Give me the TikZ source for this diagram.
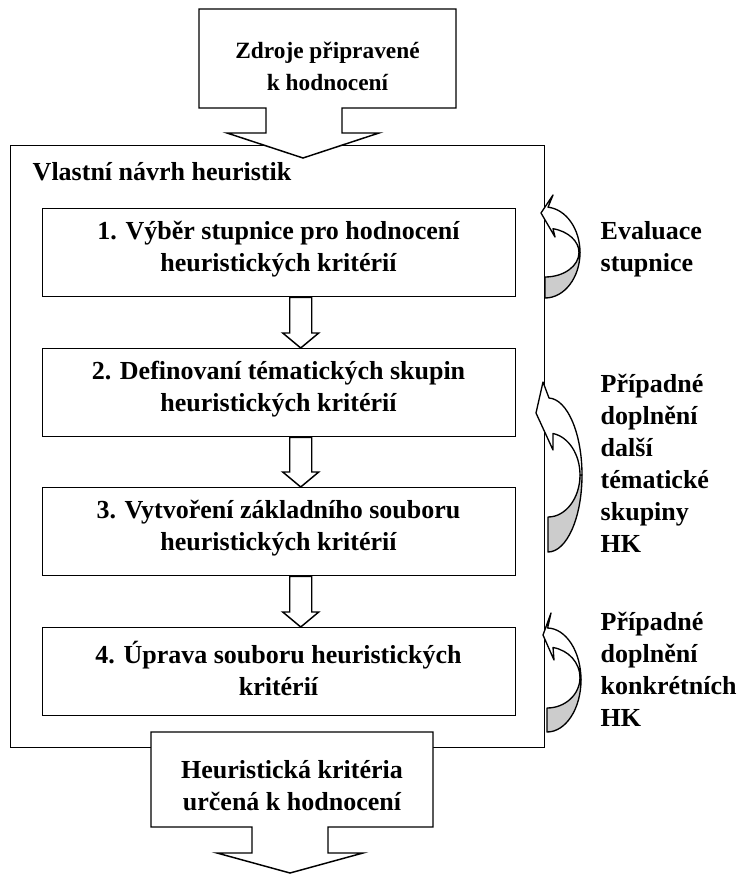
\documentclass[tikz,border=0pt]{standalone}
\usepackage{fontspec}
\setmainfont{Liberation Serif}
\usetikzlibrary{calc}
\begin{document}
\begin{tikzpicture}[x=0.75pt,y=-0.75pt,
  line width=1.1pt, line join=miter,
  shapeline/.style={draw=black, fill=white, line width=1.1pt},
  loopfront/.style={draw=black, fill=white, line width=1pt, line join=round},
  backface/.style={draw=black, fill=black!20, line width=1pt, line join=round},
  stepbox/.style={draw, fill=white, line width=1.1pt, anchor=north west,
    minimum width={473*0.75pt}, minimum height={88*0.75pt}, inner sep=0pt},
  txt/.style={font=\fontsize{19.5}{24}\selectfont\bfseries, align=center, inner sep=0pt},
  smalltxt/.style={font=\fontsize{17.5}{24}\selectfont\bfseries, align=center, inner sep=0pt},
  lbl/.style={font=\fontsize{19.5}{24}\selectfont\bfseries, align=left, anchor=west, inner sep=0pt}]
\useasboundingbox (0,0) rectangle (741,874);

% outer frame of the design phase
\node[draw, line width=1.1pt, anchor=north west, inner sep=0pt,
  minimum width={534*0.75pt}, minimum height={602*0.75pt}] (main) at (10,145) {};
\node[txt, anchor=west] (title) at (32,172) {Vlastní návrh heuristik};

% the four steps
\node[stepbox] (b1) at (42,208) {};
\node[stepbox] (b2) at (42,348) {};
\node[stepbox] (b3) at (42,487) {};
\node[stepbox] (b4) at (42,627) {};
\node[txt] (t1) at (278.5,249) {1. Výběr stupnice pro hodnocení\\heuristických kritérií};
\node[txt] (t2) at (278.5,389) {2. Definovaní tématických skupin\\heuristických kritérií};
\node[txt] (t3) at (278.5,528) {3. Vytvoření základního souboru\\heuristických kritérií};
\node[txt] (t4) at (278.5,668) {4. Úprava souboru heuristických\\kritérií};

% hollow block arrows between the steps
\foreach \a/\b in {b1/b2,b2/b3,b3/b4}{
  \coordinate (s) at ($(\a.south)+(21.5,0)$);
  \coordinate (e) at ($(\b.north)+(21.5,0)$);
  \draw[shapeline] ($(s)+(-11,0)$) -- ($(e)+(-11,-15)$) -- ($(e)+(-18,-15)$) -- (e)
    -- ($(e)+(18,-15)$) -- ($(e)+(11,-15)$) -- ($(s)+(11,0)$) -- cycle;
}

% input callout
\draw[shapeline] (199,9) -- (456,9) -- (456,108) -- (342,108) -- (342,133) -- (379,133)
  -- (303,158) -- (227,133) -- (266,133) -- (266,108) -- (199,108) -- cycle;
\node[smalltxt] (src) at (327.5,66) {Zdroje připravené\\k hodnocení};

% output callout
\draw[shapeline] (151,732) -- (433,732) -- (433,827) -- (328,827) -- (328,853) -- (363,853)
  -- (290,873) -- (217,853) -- (252,853) -- (252,827) -- (151,827) -- cycle;
\node[txt] (out) at (292,786) {Heuristická kritéria\\určená k hodnocení};

% feedback loops on the right
\draw[backface] (580,252.5) arc[start angle=0,end angle=90,x radius=35,y radius=45.5]
  -- (545,277) arc[start angle=90,end angle=0,x radius=34,y radius=24.5] -- cycle;
\draw[loopfront] (548.05,207.2) arc[start angle=-85,end angle=0,x radius=35,y radius=45.5]
  -- (579,252.5) arc[start angle=0,end angle=-76.4,x radius=34,y radius=24.5]
  -- (555,237) -- (541,213) -- (553,195) -- cycle;

\draw[backface] (582,475) arc[start angle=0,end angle=90,x radius=34,y radius=77]
  -- (548,517) arc[start angle=90,end angle=0,x radius=32,y radius=42] -- cycle;
\draw[loopfront] (549,398) arc[start angle=-88.3,end angle=0,x radius=34,y radius=77]
  -- (580,475) arc[start angle=0,end angle=-81,x radius=32,y radius=42]
  -- (553,450) -- (536,413) -- (543,382) -- cycle;

\draw[backface] (581,680) arc[start angle=0,end angle=90,x radius=34,y radius=52]
  -- (547,708) arc[start angle=90,end angle=0,x radius=33,y radius=30.5] -- cycle;
\draw[loopfront] (547.6,628) arc[start angle=-89,end angle=0,x radius=34,y radius=52]
  -- (580,677.5) arc[start angle=0,end angle=-79.5,x radius=33,y radius=30.5]
  -- (554,660) -- (543,635) -- (551,613) -- cycle;

% loop labels
\node[lbl] (e1) at (600,249) {Evaluace\\stupnice};
\node[lbl] (e2) at (600,463) {Případné\\doplnění\\další\\tématické\\skupiny\\HK};
\node[lbl] (e3) at (600,669) {Případné\\doplnění\\konkrétních\\HK};
\end{tikzpicture}
\end{document}
